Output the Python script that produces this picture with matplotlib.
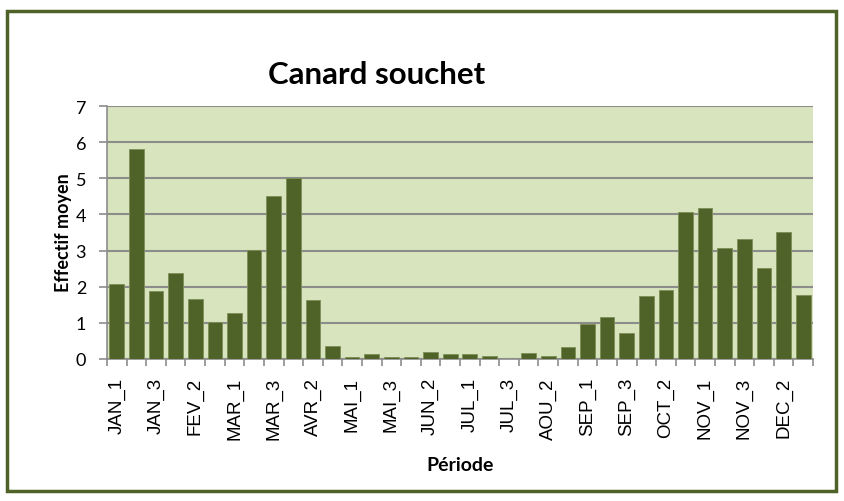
import matplotlib.pyplot as plt
from matplotlib.patches import Rectangle
import numpy as np

# Canard souchet - effectif moyen par decade
periodes = ["JAN_1", "JAN_2", "JAN_3", "FEV_1", "FEV_2", "FEV_3",
            "MAR_1", "MAR_2", "MAR_3", "AVR_1", "AVR_2", "AVR_3",
            "MAI_1", "MAI_2", "MAI_3", "JUN_1", "JUN_2", "JUN_3",
            "JUL_1", "JUL_2", "JUL_3", "AOU_1", "AOU_2", "AOU_3",
            "SEP_1", "SEP_2", "SEP_3", "OCT_1", "OCT_2", "OCT_3",
            "NOV_1", "NOV_2", "NOV_3", "DEC_1", "DEC_2", "DEC_3"]
effectif = [2.08, 5.82, 1.89, 2.39, 1.66, 1.01,
            1.26, 3.02, 4.50, 5.00, 1.64, 0.35,
            0.05, 0.13, 0.05, 0.06, 0.19, 0.15,
            0.14, 0.09, 0.00, 0.17, 0.09, 0.33,
            0.96, 1.17, 0.72, 1.74, 1.92, 4.06,
            4.19, 3.06, 3.32, 2.51, 3.51, 1.78]
yticks = [0, 1, 2, 3, 4, 5, 6, 7]

W, H = 844, 502
fig = plt.figure(figsize=(W / 100, H / 100), dpi=100)
ax = fig.add_axes([107 / W, 1 - 360 / H, (813 - 107) / W, (360 - 107) / H])

x = np.arange(len(periodes))
ax.bar(x, effectif, width=0.75, color="#4F6228", edgecolor="#7D8E58",
       linewidth=0.6, zorder=3)

ax.set_facecolor("#D7E4BD")
ax.set_xlim(-0.5, len(periodes) - 0.5)
ax.set_ylim(0, 7)
ax.set_yticks(yticks)
ax.set_yticklabels([str(v) for v in yticks], fontsize=13, family="Lato")
ax.yaxis.grid(True, color="#8C8C8C", linewidth=1.5, zorder=1)

# tick marks between categories, labels every other bar
ax.set_xticks(np.arange(len(periodes) + 1) - 0.5)
ax.set_xticklabels([])
ax.set_xticks(x[::2], minor=True)
ax.set_xticklabels(periodes[::2], minor=True, rotation=90, fontsize=13.5,
                   family="Liberation Sans")
ax.tick_params(axis="x", which="minor", length=0, pad=13)
ax.tick_params(axis="x", which="major", length=5, color="#8C8C8C", width=1.2)
ax.tick_params(axis="y", length=6, color="#8C8C8C", width=1.2, pad=9)

for side in ["top", "right"]:
    ax.spines[side].set_visible(False)
for side in ["left", "bottom"]:
    ax.spines[side].set_color("#8C8C8C")
    ax.spines[side].set_linewidth(1.2)

fig.text(377 / W, 1 - 84 / H, "Canard souchet", ha="center", va="baseline",
         fontsize=22.5, fontweight="bold", family="Lato")
fig.text(64 / W, 1 - 233 / H, "Effectif moyen", ha="center", va="center",
         rotation=90, fontsize=13, fontweight="bold", family="Lato")
fig.text(460 / W, 1 - 466 / H, "Période", ha="center", va="center",
         fontsize=14, fontweight="bold", family="Lato")

# outer chart border
fig.patches.append(Rectangle((7 / W, 1 - 492 / H), 829 / W, 480 / H,
                             transform=fig.transFigure, fill=False,
                             edgecolor="#4F6228", linewidth=2.5))

fig.savefig("out.png", dpi=100)
